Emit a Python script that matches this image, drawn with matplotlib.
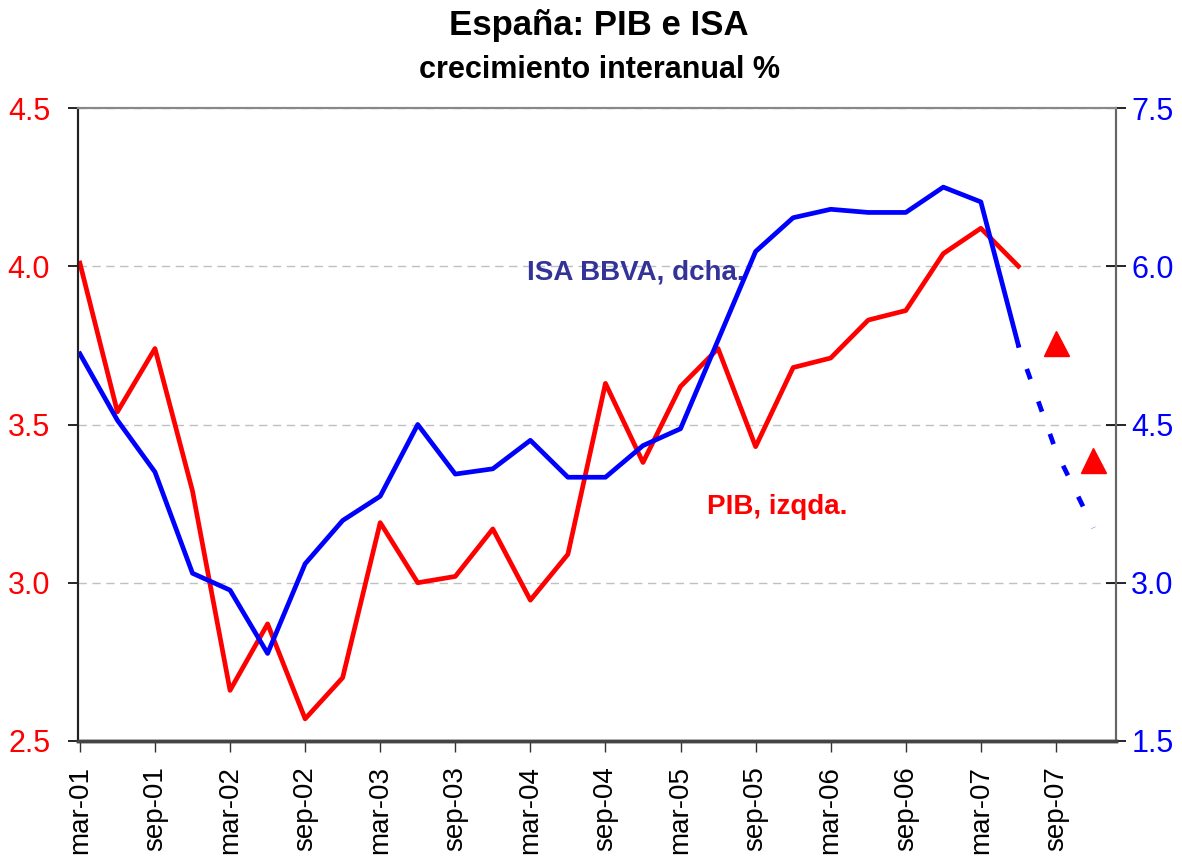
import matplotlib.pyplot as plt
import numpy as np

plt.rcParams['font.family'] = ['Liberation Sans', 'DejaVu Sans']

# datos trimestrales mar-01 .. jun-07
pib = [4.01, 3.54, 3.74, 3.29, 2.66, 2.87, 2.57, 2.70, 3.19, 3.00, 3.02, 3.17,
       2.945, 3.09, 3.63, 3.38, 3.62, 3.74, 3.43, 3.68, 3.71, 3.83, 3.86, 4.04,
       4.12, 4.00]
isa = [5.17, 4.54, 4.05, 3.09, 2.93, 2.33, 3.18, 3.59, 3.82, 4.50, 4.03, 4.08,
       4.35, 4.00, 4.00, 4.30, 4.46, 5.30, 6.14, 6.46, 6.54, 6.51, 6.51, 6.75,
       6.61, 5.25]
# prevision ISA (jun-07 .. dic-07) y prevision PIB (sep-07, dic-07)
isa_prev = [5.25, 4.25, 3.52]
pib_prev = [3.758, 3.387]
etiquetas = ['mar-01', 'sep-01', 'mar-02', 'sep-02', 'mar-03', 'sep-03', 'mar-04',
             'sep-04', 'mar-05', 'sep-05', 'mar-06', 'sep-06', 'mar-07', 'sep-07']

x = np.arange(len(pib))
x_isa_prev = np.arange(len(isa) - 1, len(isa) - 1 + len(isa_prev))
x_pib_prev = np.arange(len(pib), len(pib) + len(pib_prev))

fig = plt.figure(figsize=(11.82, 8.64), dpi=100)
ax = fig.add_axes([78 / 1182, 1 - 741 / 864, (1116 - 78) / 1182, (741 - 108) / 864])
ax2 = ax.twinx()

ax.plot(x, pib, color='#ff0000', lw=3.4, zorder=3)
ax.plot(x_pib_prev, pib_prev, ls='none', marker='^', ms=18, color='#ff0000', zorder=3)
ax2.plot(x, isa, color='#0000ff', lw=3.4)
ax2.plot(x_isa_prev, isa_prev, color='#0000ff', lw=3.4, ls=(2, (2.3, 5)))

ax.set_xlim(-0.05, 27.6)
ax.set_ylim(2.5, 4.5)
ax2.set_ylim(1.5, 7.5)
ax.set_yticks([2.5, 3.0, 3.5, 4.0, 4.5])
ax2.set_yticks([1.5, 3.0, 4.5, 6.0, 7.5])
ax.yaxis.set_major_formatter(plt.FormatStrFormatter('%.1f'))
ax2.yaxis.set_major_formatter(plt.FormatStrFormatter('%.1f'))
ax.set_xticks(np.arange(0, 28, 2))
ax.set_xticklabels(etiquetas, rotation=90, fontsize=20)

ax.tick_params(axis='y', colors='#ff0000', labelsize=22, length=7, width=1.2, pad=13)
ax.tick_params(axis='y', color='black')
ax2.tick_params(axis='y', colors='#0000ff', labelsize=22, length=14, width=1.2,
                pad=4, direction='inout')
ax2.tick_params(axis='y', color='black')
ax.tick_params(axis='x', length=8, width=1, color='#333333', pad=10)

ax.grid(axis='y', ls=(0, (6, 4)), color='#c0c0c0', lw=1)

for a in (ax, ax2):
    a.spines['top'].set_color('#888888')
    a.spines['top'].set_linewidth(1.5)
    a.spines['left'].set_color('#222222')
    a.spines['left'].set_linewidth(1.5)
    a.spines['right'].set_color('#666666')
    a.spines['right'].set_linewidth(1.5)
    a.spines['bottom'].set_color('#444444')
    a.spines['bottom'].set_linewidth(2.5)

ax.text(11.9, 3.98, 'ISA BBVA, dcha.', color='#333399', fontsize=20, fontweight='bold', va='center')
ax.text(16.7, 3.24, 'PIB, izqda.', color='#ff0000', fontsize=20, fontweight='bold', va='center')

fig.text(0.507, 0.971, 'España: PIB e ISA', ha='center', va='center', fontsize=25, fontweight='bold')
fig.text(0.507, 0.919, 'crecimiento interanual %', ha='center', va='center', fontsize=22, fontweight='bold')

plt.savefig('out.png', dpi=100)
